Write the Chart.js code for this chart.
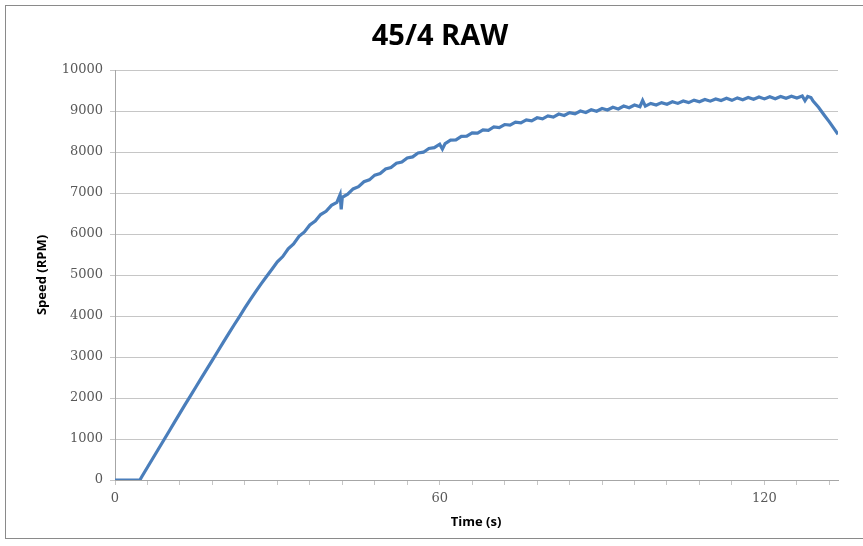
<!DOCTYPE html>
<html>
<head>
<meta charset="utf-8">
<script src="https://cdn.jsdelivr.net/npm/chart.js@4.4.1/dist/chart.umd.min.js"></script>
<style>
  html, body { margin: 0; padding: 0; background: #fff; }
  #wrap { width: 863px; height: 546px; position: relative; }
</style>
</head>
<body>
<div id="wrap"><canvas id="speedChart" width="863" height="546"></canvas></div>
<script>
// time stamps (s) and measured motor speed (RPM)
const timeSec = [
  0, 4.6, 5, 6, 7, 8, 9, 10, 11, 12, 13, 14, 15, 16, 17, 18, 19, 20,
  21, 22, 23, 24, 25, 26, 27, 28, 29, 30, 31, 32, 33, 34, 35, 36, 37, 38,
  39, 40, 41, 41.6, 41.8, 42, 43, 44, 45, 46, 47, 48, 49, 50, 51, 52, 53,
  54, 55, 56, 57, 58, 59, 60, 60.5, 61, 62, 63, 64, 65, 66, 67, 68, 69,
  70, 71, 72, 73, 74, 75, 76, 77, 78, 79, 80, 81, 82, 83, 84, 85, 86, 87,
  88, 89, 90, 91, 92, 93, 94, 95, 96, 97, 97.5, 98, 99, 100, 101, 102,
  103, 104, 105, 106, 107, 108, 109, 110, 111, 112, 113, 114, 115, 116,
  117, 118, 119, 120, 121, 122, 123, 124, 125, 126, 127, 127.5, 128,
  128.6, 129, 130, 131, 132, 133, 133.6
];
const speedRpm = [
  0, 0, 90, 310, 530, 750, 970, 1190, 1410, 1630, 1850, 2065, 2280, 2495, 2710, 2925, 3140, 3355,
  3570, 3780, 3985, 4200, 4400, 4595, 4785, 4965, 5140, 5320, 5450, 5640, 5760, 5945, 6050, 6220, 6315, 6475,
  6555, 6700, 6770, 6960, 6600, 6895, 6970, 7100, 7155, 7275, 7320, 7435, 7475, 7585, 7620, 7725, 7755,
  7855, 7880, 7975, 7995, 8085, 8105, 8190, 8070, 8205, 8290, 8295, 8380, 8385, 8465, 8460, 8540, 8530,
  8610, 8595, 8670, 8655, 8730, 8710, 8785, 8760, 8835, 8810, 8880, 8850, 8925, 8890, 8960, 8930, 9000, 8965,
  9030, 8995, 9060, 9025, 9090, 9050, 9120, 9080, 9145, 9105, 9260, 9120, 9185, 9145, 9205, 9165,
  9225, 9185, 9245, 9205, 9265, 9225, 9280, 9240, 9295, 9255, 9310, 9260, 9320, 9275,
  9330, 9285, 9340, 9295, 9350, 9300, 9355, 9310, 9360, 9315, 9365, 9250, 9355,
  9330, 9240, 9090, 8910, 8735, 8545, 8430
];
const xTickLabels = [0, 60, 120];

const points = timeSec.map((t, i) => ({ x: t, y: speedRpm[i] }));

const tickFont = { family: 'DejaVu Serif', size: 13 };
const tickColor = '#595959';
const gridColor = '#c6c6c6';

// fixed frame, titles and outer border of the chart box
const frame = {
  id: 'frame',
  afterDraw(chart) {
    const c = chart.ctx;
    c.save();
    c.strokeStyle = '#8a8a8a';
    c.lineWidth = 1;
    c.strokeRect(5.5, 5.5, 880, 533);

    c.fillStyle = '#000';
    c.textAlign = 'center';
    c.textBaseline = 'middle';
    c.font = 'bold 29px "Open Sans"';
    c.fillText('45/4 RAW', 440, 37);

    c.font = 'bold 13px "Open Sans"';
    c.fillText('Time (s)', 476, 522);

    c.translate(42, 275);
    c.rotate(-Math.PI / 2);
    c.fillText('Speed (RPM)', 0, 0);
    c.restore();
  }
};

new Chart(document.getElementById('speedChart'), {
  type: 'line',
  data: {
    datasets: [{
      data: points,
      borderColor: 'rgb(74, 126, 187)',
      borderWidth: 3.2,
      pointRadius: 0,
      tension: 0,
      fill: false
    }]
  },
  options: {
    responsive: false,
    animation: false,
    layout: { padding: { top: 70, right: 25, left: 0, bottom: 0 } },
    plugins: { legend: { display: false }, tooltip: { enabled: false } },
    scales: {
      x: {
        type: 'linear',
        min: 0,
        max: 133.6,
        afterFit(scale) { scale.height = 66; },
        grid: { drawOnChartArea: false, drawTicks: true, tickLength: 5, color: gridColor },
        border: { color: '#a6a6a6' },
        ticks: {
          stepSize: 6,
          includeBounds: false,
          autoSkip: false,
          maxRotation: 0,
          padding: 6,
          font: tickFont,
          color: tickColor,
          callback: v => {
            const hit = xTickLabels.find(l => Math.abs(l - v) < 1e-6);
            return hit === undefined ? '' : String(hit);
          }
        }
      },
      y: {
        min: 0,
        max: 10000,
        afterFit(scale) { scale.width = 115; },
        grid: { color: gridColor, tickLength: 5 },
        border: { color: '#a6a6a6' },
        ticks: { stepSize: 1000, padding: 7, font: tickFont, color: tickColor, callback: v => String(v) }
      }
    }
  },
  plugins: [frame]
});
</script>
</body>
</html>
